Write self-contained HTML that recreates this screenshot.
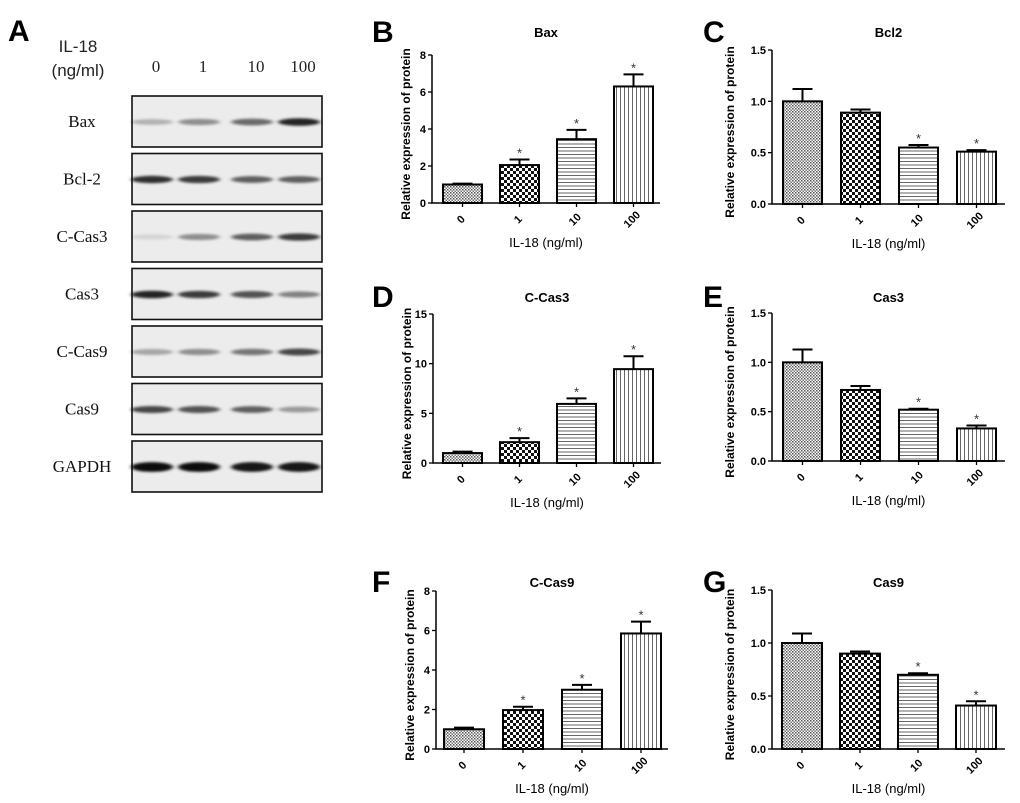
<!DOCTYPE html>
<html><head><meta charset="utf-8"><style>
html,body{margin:0;padding:0;background:#fff;}
svg{display:block;}
text{font-family:"Liberation Sans",Arial,sans-serif;}
.serif{font-family:"Liberation Serif","Times New Roman",serif;}
</style></head><body>
<svg id="fig" width="1020" height="803" viewBox="0 0 1020 803" xmlns="http://www.w3.org/2000/svg">
<defs>
<pattern id="p0" width="3" height="3" patternUnits="userSpaceOnUse"><rect width="3" height="3" fill="#fff"/><rect width="1.5" height="1.5" fill="#555"/><rect x="1.5" y="1.5" width="1.5" height="1.5" fill="#777"/></pattern>
<pattern id="p1" width="6" height="6" patternUnits="userSpaceOnUse"><rect width="6" height="6" fill="#fff"/><rect width="3" height="3" fill="#111"/><rect x="3" y="3" width="3" height="3" fill="#111"/></pattern>
<pattern id="p2" width="4" height="3.5" patternUnits="userSpaceOnUse"><rect width="4" height="3.5" fill="#fff"/><rect width="4" height="1" fill="#666"/></pattern>
<pattern id="p3" width="4" height="4" patternUnits="userSpaceOnUse"><rect width="4" height="4" fill="#fff"/><rect width="1" height="4" fill="#666"/></pattern>
<filter id="blur" x="-20%" y="-100%" width="140%" height="300%"><feGaussianBlur stdDeviation="2 1.3"/></filter>
</defs>
<g id="blot"></g>
<g id="charts"></g>
</svg>
<script>
const NS="http://www.w3.org/2000/svg";
function mk(parent,tag,attrs,txt){const e=document.createElementNS(NS,tag);for(const k in attrs)e.setAttribute(k,attrs[k]);if(txt!==undefined)e.textContent=txt;parent.appendChild(e);return e;}

// ---------- Western blot data ----------
const blotRows=["Bax","Bcl-2","C-Cas3","Cas3","C-Cas9","Cas9","GAPDH"];
const blotLanes=["0","1","10","100"];
const bandBax=[0.25,0.4,0.55,0.85];
const bandBcl2=[0.8,0.75,0.6,0.6];
const bandCCas3=[0.1,0.4,0.6,0.75];
const bandCas3=[0.85,0.75,0.65,0.45];
const bandCCas9=[0.3,0.4,0.5,0.7];
const bandCas9=[0.7,0.65,0.6,0.35];
const bandGAPDH=[0.95,0.95,0.9,0.9];
const bandData=[bandBax,bandBcl2,bandCCas3,bandCas3,bandCCas9,bandCas9,bandGAPDH];

const blot=document.getElementById('blot');
let t=mk(blot,'text',{x:8,y:41,'font-size':30,'font-weight':'bold'},'A');

t=mk(blot,'text',{x:78,y:52,'font-size':17,'text-anchor':'middle',fill:'#222'},'IL-18');

t=mk(blot,'text',{x:78,y:76,'font-size':17,'text-anchor':'middle',fill:'#222'},'(ng/ml)');

const laneX=[153,200,253,300];
blotLanes.forEach((l,i)=>{
  const e=mk(blot,'text',{x:laneX[i]+3,y:72,'font-size':17,'text-anchor':'middle',class:'serif',fill:'#222'},l);
  
  
});
blotRows.forEach((r,ri)=>{
  const top=96+ri*57.5;
  const g=mk(blot,'g',{});
  
  
  mk(g,'rect',{x:132,y:top,width:190,height:51,fill:'#ececec',stroke:'#111','stroke-width':1.6});
  const lab=mk(g,'text',{x:82,y:top+31,'font-size':17,'text-anchor':'middle',class:'serif',fill:'#111'},r);
  
  
  bandData[ri].forEach((v,li)=>{
    const h=r==="GAPDH"?7:5;
    const b=mk(g,'ellipse',{cx:laneX[li]-1,cy:top+26,rx:21,ry:h/2+v*1.5,fill:'#000','fill-opacity':v,filter:'url(#blur)'});
    
    
  });
});

// ---------- Bar chart data ----------
const categories=["0","1","10","100"];
const baxValues=[1.0,2.05,3.45,6.3];
const baxErrors=[0.05,0.3,0.5,0.65];
const bcl2Values=[1.0,0.89,0.55,0.51];
const bcl2Errors=[0.12,0.03,0.025,0.015];
const ccas3Values=[1.0,2.1,5.95,9.45];
const ccas3Errors=[0.15,0.4,0.55,1.3];
const cas3Values=[1.0,0.72,0.52,0.33];
const cas3Errors=[0.13,0.04,0.01,0.03];
const ccas9Values=[1.0,1.97,3.0,5.85];
const ccas9Errors=[0.08,0.17,0.25,0.6];
const cas9Values=[1.0,0.9,0.7,0.41];
const cas9Errors=[0.09,0.02,0.015,0.04];
const sigBax=[false,true,true,true];
const sigBcl2=[false,false,true,true];
const sigCCas3=[false,true,true,true];
const sigCas3=[false,false,true,true];
const sigCCas9=[false,true,true,true];
const sigCas9=[false,false,true,true];
const ticksHigh8=["0","2","4","6","8"];
const ticksHigh15=["0","5","10","15"];
const ticksLow=["0.0","0.5","1.0","1.5"];

const panels=[
 {L:'B',title:'Bax',vals:baxValues,errs:baxErrors,sig:sigBax,ticks:ticksHigh8,ax:432,y0:203,yt:55,x0:443,step:57,w:39,end:660,ty:32,lx:372},
 {L:'C',title:'Bcl2',vals:bcl2Values,errs:bcl2Errors,sig:sigBcl2,ticks:ticksLow,ax:772,y0:204,yt:50,x0:783,step:58,w:39,end:1005,ty:32,lx:703},
 {L:'D',title:'C-Cas3',vals:ccas3Values,errs:ccas3Errors,sig:sigCCas3,ticks:ticksHigh15,ax:433,y0:463,yt:314,x0:443,step:57,w:39,end:661,ty:297,lx:372},
 {L:'E',title:'Cas3',vals:cas3Values,errs:cas3Errors,sig:sigCas3,ticks:ticksLow,ax:772,y0:461,yt:313,x0:783,step:58,w:39,end:1005,ty:297,lx:703},
 {L:'F',title:'C-Cas9',vals:ccas9Values,errs:ccas9Errors,sig:sigCCas9,ticks:ticksHigh8,ax:436,y0:749,yt:591,x0:444,step:59,w:40,end:668,ty:582,lx:372},
 {L:'G',title:'Cas9',vals:cas9Values,errs:cas9Errors,sig:sigCas9,ticks:ticksLow,ax:772,y0:749,yt:590,x0:782,step:58,w:40,end:1005,ty:582,lx:703}
];

const charts=document.getElementById('charts');
panels.forEach(p=>{
  const g=mk(charts,'g',{});
  
  
  const tmax=parseFloat(p.ticks[p.ticks.length-1]);
  const yS=v=>p.y0-(v/tmax)*(p.y0-p.yt);
  const xS=i=>p.x0+i*p.step;
  let e=mk(g,'text',{x:p.lx,y:p.ty+10,'font-size':30,'font-weight':'bold'},p.L);
  
  
  e=mk(g,'text',{x:(p.ax+p.end)/2,y:p.ty+5,'font-size':13,'font-weight':'bold','text-anchor':'middle'},p.title);
  
  
  // bars
  p.vals.forEach((v,i)=>{
    const x=xS(i),y=yS(v),cx=x+p.w/2,ye=yS(v+p.errs[i]);
    const er=mk(g,'path',{d:`M${cx},${y}V${ye}M${cx-10},${ye}H${cx+10}`,stroke:'#000','stroke-width':2,fill:'none'});
    
    
    const b=mk(g,'rect',{x:x,y:y,width:p.w,height:p.y0-y,fill:'url(#p'+i+')',stroke:'#000','stroke-width':2});
    
    
    if(p.sig[i]){
      const s=mk(g,'text',{x:cx,y:ye-2,'font-size':13,'text-anchor':'middle',fill:'#333'},'*');
      
      
    }
    const tk=mk(g,'line',{x1:cx,x2:cx,y1:p.y0,y2:p.y0+4,stroke:'#000','stroke-width':1.3});
    
    
    const lb=mk(g,'text',{x:0,y:0,'font-size':11,'font-weight':'bold','text-anchor':'middle',transform:`translate(${cx+1},${p.y0+19}) rotate(-45)`},categories[i]);
    
    
  });
  // axes
  const ax=mk(g,'path',{d:`M${p.ax},${p.yt}V${p.y0}H${p.end}`,stroke:'#000','stroke-width':1.5,fill:'none'});
  
  
  p.ticks.forEach(tl=>{
    const y=yS(parseFloat(tl));
    const tk=mk(g,'line',{x1:p.ax-4,x2:p.ax,y1:y,y2:y,stroke:'#000','stroke-width':1.3});
    
    
    const lb=mk(g,'text',{x:p.ax-6,y:y+4,'font-size':11,'font-weight':'bold','text-anchor':'end'},tl);
    
    
  });
  const yl=mk(g,'text',{x:0,y:0,'font-size':12,'font-weight':'bold','text-anchor':'middle',transform:`translate(${p.ax-(p.ticks[0].length>1?38:22)},${(p.yt+p.y0)/2+5}) rotate(-90)`},'Relative expression of protein');
  
  
  const xl=mk(g,'text',{x:(p.ax+p.end)/2,y:p.y0+44,'font-size':13,'text-anchor':'middle'},'IL-18 (ng/ml)');
  
  
});
</script>
</body></html>
